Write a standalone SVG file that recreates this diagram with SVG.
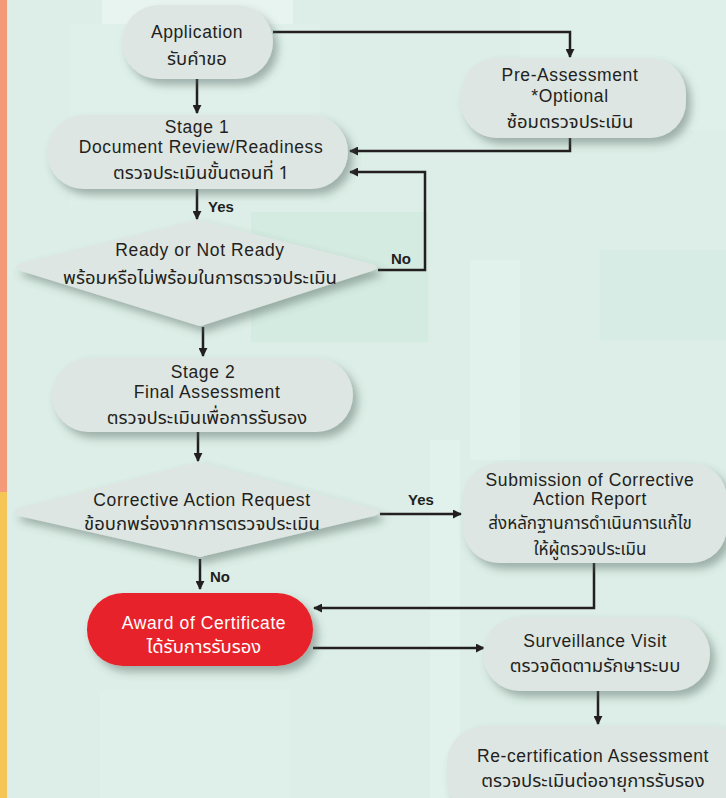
<svg xmlns="http://www.w3.org/2000/svg" width="726" height="798" viewBox="0 0 726 798">
<defs>
<style>
.box{fill:#DDE6E2;filter:url(#sh);}
.red{fill:#E8242B;filter:url(#sh);}
.en{font-family:"Liberation Sans",Arial,sans-serif;font-size:17.5px;letter-spacing:0.6px;fill:#231F20;text-anchor:middle;}
.th{font-family:"Noto Sans Thai","Noto Sans","DejaVu Sans",sans-serif;font-size:18.5px;fill:#231F20;text-anchor:middle;}
.sm{font-size:17px;}
.wh{fill:#FFFFFF;}
.lbl{font-family:"Liberation Sans",Arial,sans-serif;font-size:15px;font-weight:bold;fill:#231F20;}
.ln{fill:none;stroke:#231F20;stroke-width:2.5;}
</style>
<filter id="sh" x="-20%" y="-30%" width="140%" height="170%">
<feDropShadow dx="5" dy="6" stdDeviation="4.5" flood-color="#4F625C" flood-opacity="0.45"/>
</filter>
<marker id="ar" viewBox="0 0 10 10" refX="9" refY="5" markerWidth="3.6" markerHeight="3.6" orient="auto" markerUnits="strokeWidth">
<path d="M0,0 L10,5 L0,10 z" fill="#231F20"/>
</marker>
</defs>
<g id="background">
<rect x="0" y="0" width="726" height="798" fill="#DCEEE7"/>
<rect x="102" y="0" width="191" height="24" fill="#E8F4EF"/>
<rect x="70" y="24" width="250" height="180" fill="#DFF0EA"/>
<rect x="251" y="212" width="177" height="130" fill="#D4EBE1"/>
<rect x="520" y="0" width="206" height="130" fill="#DFF0EA"/>
<rect x="470" y="260" width="50" height="200" fill="#E1F1EB"/>
<rect x="600" y="250" width="126" height="90" fill="#D7ECE4"/>
<rect x="430" y="440" width="30" height="358" fill="#E1F1EB"/>
<rect x="100" y="690" width="190" height="108" fill="#DFF0EA"/>
<rect x="0" y="0" width="7" height="492" fill="#F59A78"/>
<rect x="0" y="492" width="7" height="306" fill="#F5C656"/>
</g>
<g id="connectors">
<path class="ln" d="M273,32 H570 V57" marker-end="url(#ar)"/>
<path class="ln" d="M197,79 V113" marker-end="url(#ar)"/>
<path class="ln" d="M570,138 V151 H350" marker-end="url(#ar)"/>
<path class="ln" d="M197,189 V219" marker-end="url(#ar)"/>
<path class="ln" d="M378,270 H425 V172 H350" marker-end="url(#ar)"/>
<path class="ln" d="M203,327 V356" marker-end="url(#ar)"/>
<path class="ln" d="M198,432 V461" marker-end="url(#ar)"/>
<path class="ln" d="M380,514 H461" marker-end="url(#ar)"/>
<path class="ln" d="M200,559 V589" marker-end="url(#ar)"/>
<path class="ln" d="M594,563 V608 H314" marker-end="url(#ar)"/>
<path class="ln" d="M313,648 H484" marker-end="url(#ar)"/>
<path class="ln" d="M598,691 V724" marker-end="url(#ar)"/>
<text class="lbl" x="208" y="212">Yes</text>
<text class="lbl" x="391" y="264">No</text>
<text class="lbl" x="408" y="505">Yes</text>
<text class="lbl" x="210" y="582">No</text>
</g>
<g id="application">
<rect class="box" x="122" y="5" width="151" height="74" rx="37"/>
<text class="en" x="197" y="38">Application</text>
<text class="th" x="197" y="65">รับคำขอ</text>
</g>
<g id="pre-assessment">
<rect class="box" x="461" y="58" width="225" height="80" rx="36"/>
<text class="en" x="570" y="81">Pre-Assessment</text>
<text class="en" x="570" y="102">*Optional</text>
<text class="th" x="570" y="128">ซ้อมตรวจประเมิน</text>
</g>
<g id="stage1">
<rect class="box" x="47" y="115" width="301" height="74" rx="37"/>
<text class="en" x="197" y="133">Stage 1</text>
<text class="en" x="201" y="153">Document Review/Readiness</text>
<text class="th" x="201" y="179">ตรวจประเมินขั้นตอนที่ 1</text>
</g>
<g id="ready">
<path class="box" d="M198,220 L372,264 Q382,267 372,271 L204,325 Q200,327 196,325 L21,271 Q11,267 21,263 Z"/>
<text class="en" x="200" y="256">Ready or Not Ready</text>
<text class="th" x="200" y="284">พร้อมหรือไม่พร้อมในการตรวจประเมิน</text>
</g>
<g id="stage2">
<rect class="box" x="52" y="358" width="301" height="74" rx="37"/>
<text class="en" x="203" y="378">Stage 2</text>
<text class="en" x="207" y="398">Final Assessment</text>
<text class="th" x="207" y="424">ตรวจประเมินเพื่อการรับรอง</text>
</g>
<g id="car">
<path class="box" d="M198,462 L374,509 Q384,512 374,516 L204,556 Q200,558 196,556 L19,516 Q9,512 19,508 Z"/>
<text class="en" x="202" y="506">Corrective Action Request</text>
<text class="th" x="202" y="530">ข้อบกพร่องจากการตรวจประเมิน</text>
</g>
<g id="submission">
<rect class="box" x="463" y="463" width="264" height="100" rx="36"/>
<text class="en" x="590" y="486">Submission of Corrective</text>
<text class="en" x="590" y="505">Action Report</text>
<text class="th sm" x="590" y="529">ส่งหลักฐานการดำเนินการแก้ไข</text>
<text class="th sm" x="590" y="555">ให้ผู้ตรวจประเมิน</text>
</g>
<g id="award">
<rect class="red" x="87" y="593" width="226" height="73" rx="36"/>
<text class="en wh" x="204" y="629">Award of Certificate</text>
<text class="th wh" x="204" y="653">ได้รับการรับรอง</text>
</g>
<g id="surveillance">
<rect class="box" x="483" y="617" width="227" height="74" rx="37"/>
<text class="en" x="595" y="647">Surveillance Visit</text>
<text class="th" x="595" y="672">ตรวจติดตามรักษาระบบ</text>
</g>
<g id="recert">
<rect class="box" x="447" y="726" width="300" height="90" rx="37"/>
<text class="en" x="593" y="762">Re-certification Assessment</text>
<text class="th" x="593" y="787">ตรวจประเมินต่ออายุการรับรอง</text>
</g>
</svg>
